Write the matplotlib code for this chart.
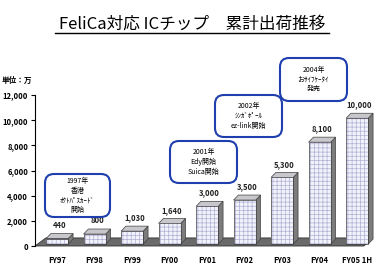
import matplotlib
matplotlib.use("Agg")
import matplotlib.pyplot as plt
from matplotlib.patches import Rectangle, Polygon, FancyBboxPatch
from matplotlib.lines import Line2D
from matplotlib.transforms import IdentityTransform

plt.rcParams["font.family"] = ["Noto Sans CJK JP", "DejaVu Sans"]
plt.rcParams["hatch.linewidth"] = 0.5

years = ["FY97", "FY98", "FY99", "FY00", "FY01", "FY02", "FY03", "FY04", "FY05 1H"]
shipments = [440, 800, 1030, 1640, 3000, 3500, 5300, 8100, 10000]
value_labels = ["440", "800", "1,030", "1,640", "3,000", "3,500", "5,300", "8,100", "10,000"]
callouts = [
    "1997年\n香港\nｵｸﾄﾊﾟｽｶｰﾄﾞ\n開始",
    "2001年\nEdy開始\nSuica開始",
    "2002年\nｼﾝｶﾞﾎﾟｰﾙ\nez-link開始",
    "2004年\nおｻｲﾌｹｰﾀｲ\n発売",
]
# callout boxes in pixel coords (left, top, right, bottom)
callout_boxes = [(45, 174, 110, 217), (170, 141, 237, 183), (215, 95, 282, 137), (280, 58, 347, 101)]

W, H = 384, 270
fig = plt.figure(figsize=(W / 100, H / 100), dpi=100)
fig.patch.set_facecolor("white")
ax = fig.add_axes([35 / W, 1 - 246 / H, (380 - 35) / W, (246 - 95) / H])

ax.set_xlim(-0.59, 8.61)
ax.set_ylim(0, 12000)

# floor
floor = Polygon([(-0.59, 0), (-0.30, 640), (8.42, 640), (8.18, 0)], closed=True,
                facecolor="#6a6a6a", edgecolor="#303030", lw=0.6, clip_on=False, zorder=1)
ax.add_patch(floor)

w, dx, dy, base = 0.59, 0.13, 400, 150
for i, v in enumerate(shipments):
    x0 = i - w / 2
    x1 = i + w / 2
    side = Polygon([(x1, base), (x1 + dx, base + dy), (x1 + dx, base + v + dy), (x1, base + v)],
                   closed=True, facecolor="#7c7c7c", edgecolor="#404040", lw=0.5, zorder=2)
    top = Polygon([(x0, base + v), (x0 + dx, base + v + dy), (x1 + dx, base + v + dy), (x1, base + v)],
                  closed=True, facecolor="#c8c8cc", edgecolor="#404040", lw=0.5, zorder=2)
    front = Rectangle((x0, base), w, v, facecolor="#f2f2fa", edgecolor="#b0b0d6",
                      lw=0, hatch="++++", zorder=3)
    outline = Rectangle((x0, base), w, v, facecolor="none", edgecolor="#404040",
                        lw=0.5, zorder=3.5)
    ax.add_patch(side)
    ax.add_patch(top)
    ax.add_patch(front)
    ax.add_patch(outline)
    ax.text(i + dx / 2, base + v + dy + 300, value_labels[i], ha="center", va="bottom",
            fontsize=5.5, fontweight="bold", color="#222222", zorder=4)

for s in ["top", "right", "bottom"]:
    ax.spines[s].set_visible(False)
ax.spines["left"].set_linewidth(0.8)
ax.set_yticks(range(0, 12001, 2000))
ax.set_yticklabels([f"{t:,}" for t in range(0, 12001, 2000)], fontsize=5.5, fontweight="bold")
ax.tick_params(axis="y", length=3, width=0.8, pad=2)
ax.set_xticks(range(len(years)))
ax.set_xticklabels(years, fontsize=5.5, fontweight="bold")
ax.tick_params(axis="x", length=0, pad=7)

# title with underline
fig.text(192 / W, 1 - 24 / H, "FeliCa対応 ICチップ　累計出荷推移", ha="center", va="center",
         fontsize=12, color="black")
fig.add_artist(Line2D([55 / W, 329 / W], [1 - 33 / H, 1 - 33 / H], color="black", lw=1.0))

fig.text(2 / W, 1 - 80 / H, "単位：万", ha="left", va="center", fontsize=5.5, fontweight="bold")

for (l, t, r, b), txt in zip(callout_boxes, callouts):
    box = FancyBboxPatch((l, H - b), r - l, b - t,
                         boxstyle="round,pad=0,rounding_size=9",
                         transform=IdentityTransform(), facecolor="white",
                         edgecolor="#1f3fae", lw=1.5, zorder=5)
    fig.add_artist(box)
    fig.text((l + r) / 2 / W, 1 - (t + b) / 2 / H, txt, ha="center", va="center",
             fontsize=5, linespacing=1.3, zorder=6)

fig.savefig("out.png", dpi=100)
